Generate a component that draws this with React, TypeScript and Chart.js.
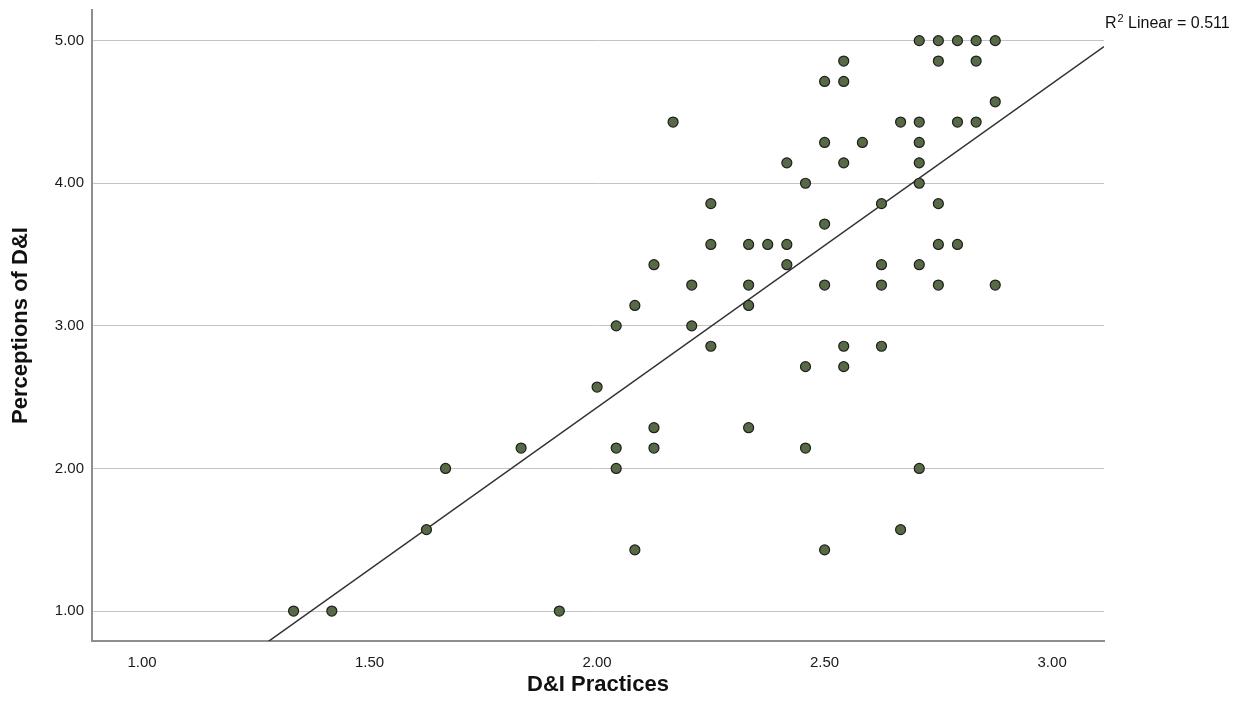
import React, { useEffect, useRef } from "react";
import { Chart, registerables } from "chart.js";

Chart.register(...registerables);

// D&I Practices (x) values of each respondent
const PRACTICES: number[] = [
  1.333, 1.417, 1.917, 1.625, 1.667, 1.833, 2.0, 2.042, 2.042, 2.125,
  2.125, 2.083, 2.042, 2.167, 2.5, 2.417, 2.458, 2.542, 2.25, 2.5,
  2.25, 2.333, 2.375, 2.417, 2.125, 2.417, 2.208, 2.333, 2.5, 2.083,
  2.333, 2.208, 2.25, 2.458, 2.542, 2.542, 2.625, 2.333, 2.458, 2.5,
  2.667, 2.708, 2.75, 2.792, 2.833, 2.875, 2.542, 2.75, 2.833, 2.5,
  2.542, 2.875, 2.667, 2.708, 2.792, 2.833, 2.583, 2.708, 2.708, 2.708,
  2.625, 2.75, 2.75, 2.792, 2.625, 2.708, 2.625, 2.75, 2.875, 2.708,
];

// Perceptions of D&I (y) values, same order
const PERCEPTIONS: number[] = [
  1.0, 1.0, 1.0, 1.571, 2.0, 2.143, 2.571, 2.0, 2.143, 2.143,
  2.286, 1.429, 3.0, 4.429, 4.286, 4.143, 4.0, 4.143, 3.857, 3.714,
  3.571, 3.571, 3.571, 3.571, 3.429, 3.429, 3.286, 3.286, 3.286, 3.143,
  3.143, 3.0, 2.857, 2.714, 2.857, 2.714, 2.857, 2.286, 2.143, 1.429,
  1.571, 5.0, 5.0, 5.0, 5.0, 5.0, 4.857, 4.857, 4.857, 4.714,
  4.714, 4.571, 4.429, 4.429, 4.429, 4.429, 4.286, 4.286, 4.143, 4.0,
  3.857, 3.857, 3.571, 3.571, 3.429, 3.429, 3.286, 3.286, 3.286, 2.0,
];

// Fit line as shown in the reference (R² Linear)
const FIT_INTERCEPT = -2.115;
const FIT_SLOPE = 2.2714;
const R2_TEXT = "0.511";

const X_TICKS: number[] = [1.0, 1.5, 2.0, 2.5, 3.0];
const Y_TICKS: number[] = [1.0, 2.0, 3.0, 4.0, 5.0];
const X_RANGE: number[] = [0.89, 3.114];
const Y_RANGE: number[] = [0.79, 5.215];
const X_TITLE = "D&I Practices";
const Y_TITLE = "Perceptions of D&I";

const FONT = "'Liberation Sans', Arial, Helvetica, sans-serif";

const r2Plugin = {
  id: "r2label",
  afterDraw(chart: any) {
    const { ctx, chartArea } = chart;
    ctx.save();
    ctx.fillStyle = "#111";
    ctx.textBaseline = "alphabetic";
    ctx.textAlign = "left";
    let x = chartArea.right + 1;
    const y = 28;
    ctx.font = `16px ${FONT}`;
    ctx.fillText("R", x, y);
    x += ctx.measureText("R").width + 1;
    ctx.font = `11px ${FONT}`;
    ctx.fillText("2", x, y - 6);
    x += ctx.measureText("2").width;
    ctx.font = `16px ${FONT}`;
    ctx.fillText(" Linear = " + R2_TEXT, x, y);
    ctx.restore();
  },
};

export default function App() {
  const ref = useRef<HTMLCanvasElement | null>(null);

  useEffect(() => {
    document.body.style.margin = "0";
    if (!ref.current) return;
    const points = PRACTICES.map((x, i) => ({ x, y: PERCEPTIONS[i] }));
    const lineData = X_RANGE.map((x) => ({ x, y: FIT_INTERCEPT + FIT_SLOPE * x }));

    const chart = new Chart(ref.current, {
      type: "scatter",
      data: {
        datasets: [
          {
            type: "scatter",
            label: "Data",
            data: points,
            pointRadius: 5,
            pointBackgroundColor: "#566b45",
            pointBorderColor: "#1e1e1e",
            pointBorderWidth: 1.2,
            order: 0,
          },
          {
            type: "line",
            label: "Fit",
            data: lineData,
            borderColor: "#333333",
            borderWidth: 1.5,
            pointRadius: 0,
            fill: false,
            order: 1,
          } as any,
        ],
      },
      options: {
        responsive: false,
        animation: false,
        events: [],
        layout: { padding: { left: 0, right: 134, top: 10, bottom: 0 } },
        plugins: {
          legend: { display: false },
          tooltip: { enabled: false },
        },
        scales: {
          x: {
            type: "linear",
            min: X_RANGE[0],
            max: X_RANGE[1],
            afterBuildTicks: (s: any) => {
              s.ticks = X_TICKS.map((v) => ({ value: v }));
            },
            afterFit: (s: any) => {
              s.height = 73;
              s.paddingLeft = 0;
              s.paddingRight = 0;
            },
            grid: { display: false, drawTicks: false },
            border: { display: true, color: "#8e8e8e", width: 2 },
            ticks: {
              padding: 13,
              color: "#1a1a1a",
              font: { family: FONT, size: 15 },
              callback: (v: any) => Number(v).toFixed(2),
            },
            title: {
              display: true,
              text: X_TITLE,
              color: "#111",
              font: { family: FONT, size: 22, weight: "bold" },
              padding: { top: 0, bottom: 16 },
            },
          },
          y: {
            type: "linear",
            min: Y_RANGE[0],
            max: Y_RANGE[1],
            afterBuildTicks: (s: any) => {
              s.ticks = Y_TICKS.map((v) => ({ value: v }));
            },
            afterFit: (s: any) => {
              s.width = 92;
              s.paddingTop = 0;
              s.paddingBottom = 0;
            },
            grid: { display: true, drawTicks: false, color: "#c4c4c4", lineWidth: 1 },
            border: { display: true, color: "#8e8e8e", width: 2 },
            ticks: {
              padding: 8,
              color: "#1a1a1a",
              font: { family: FONT, size: 15 },
              callback: (v: any) => Number(v).toFixed(2),
            },
            title: {
              display: true,
              text: Y_TITLE,
              color: "#111",
              font: { family: FONT, size: 22, weight: "bold" },
              padding: { top: 8, bottom: 0 },
            },
          },
        },
      },
      plugins: [r2Plugin],
    });
    return () => chart.destroy();
  }, []);

  return (
    <div style={{ position: "absolute", left: 0, top: 0, width: 1238, height: 714, background: "#fff" }}>
      <canvas ref={ref} width={1238} height={714} />
    </div>
  );
}
